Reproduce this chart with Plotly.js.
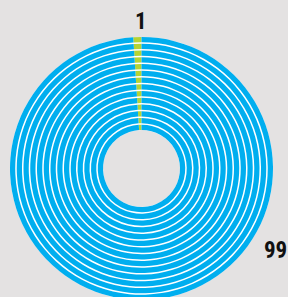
<!DOCTYPE html>
<html>
<head>
<meta charset="utf-8">
<script src="https://cdn.plot.ly/plotly-3.0.1.min.js"></script>
<style>
html,body{margin:0;padding:0;overflow:hidden;background:#e4e2e2;width:288px;height:297px;}
#chart{width:288px;height:340px;}
</style>
</head>
<body>
<div id="chart"></div>
<script>
// Data
var labels = ["1", "99"];
var values = [1, 99];
var ringCount = 14;
var sliceColors = ["#b5d334", "#00aeef"];

// Geometry (px)
var W = 288, H = 340;
var cx = 141.5, cy = 168.5;
var rOuter = 131.5, rInner = 38.5;
var gap = 1.5;

function domainFor(r) {
  return {
    x: [(cx - r) / W, (cx + r) / W],
    y: [(H - cy - r) / H, (H - cy + r) / H]
  };
}

var total = values.reduce(function (a, b) { return a + b; }, 0);
var startAngle = -360 * values[0] / total;

var traces = [];
// white base disk seen through gaps between rings
traces.push({
  type: 'pie', values: [1], labels: ['base'], sort: false,
  marker: {colors: ['#ffffff'], line: {width: 0}},
  hole: rInner / rOuter, domain: domainFor(rOuter),
  textinfo: 'none', hoverinfo: 'skip', showlegend: false
});

var period = (rOuter - rInner + gap) / ringCount;
for (var k = 0; k < ringCount; k++) {
  var ro = rOuter - k * period;
  var ri = ro - (period - gap);
  traces.push({
    type: 'pie', values: values, labels: labels, sort: false,
    direction: 'clockwise', rotation: startAngle,
    marker: {colors: sliceColors, line: {width: 0}},
    hole: ri / ro, domain: domainFor(ro),
    textinfo: 'none', hoverinfo: 'skip', showlegend: false
  });
}

var font = {family: '"Liberation Sans Narrow", "Arial Narrow", "Roboto Condensed", sans-serif', size: 23, color: '#111111', weight: 'bold'};

var layout = {
  width: W, height: H,
  margin: {l: 0, r: 0, t: 0, b: 0},
  paper_bgcolor: '#e4e2e2',
  plot_bgcolor: '#e4e2e2',
  showlegend: false,
  annotations: [
    {text: '<b>' + labels[0] + '</b>', xref: 'paper', yref: 'paper', x: 140.5 / W, y: (H - 21) / H,
     xanchor: 'center', yanchor: 'middle', showarrow: false, font: font},
    {text: '<b>' + labels[1] + '</b>', xref: 'paper', yref: 'paper', x: 289 / W, y: (H - 250) / H,
     xanchor: 'right', yanchor: 'middle', showarrow: false, font: font}
  ]
};

Plotly.newPlot('chart', traces, layout, {staticPlot: true, displayModeBar: false});
</script>
</body>
</html>
